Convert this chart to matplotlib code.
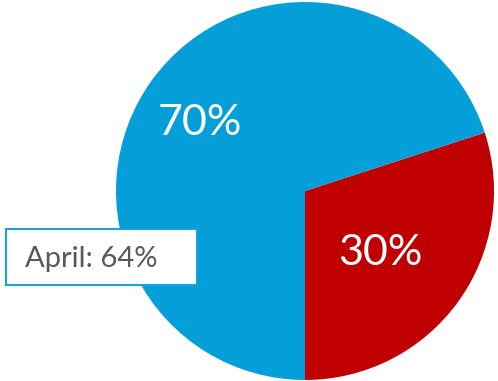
import numpy as np
import matplotlib
matplotlib.use('Agg')
import matplotlib.pyplot as plt
from matplotlib.patches import Rectangle

# datos del gráfico
labels = ['Red', 'Blue']
values = [30, 70]
colors = ['#C00000', '#049FD9']
label_radius = [0.48, 0.69]
callout = 'April: 64%'

W, H = 498, 381
fig = plt.figure(figsize=(W / 100, H / 100), dpi=100)

# centro ~ (305, 191) px, radio ~189 px
cx, cy, r = 305, 191, 189
ax = fig.add_axes([(cx - r) / W, (H - cy - r) / H, 2 * r / W, 2 * r / H])

wedges, _ = ax.pie(values, colors=colors, startangle=-90, counterclock=True,
                   radius=1, wedgeprops=dict(linewidth=0))
ax.set_xlim(-1, 1)
ax.set_ylim(-1, 1)
ax.axis('off')

# pequeños ajustes de posición de las etiquetas (rojo, azul)
offsets = [(0.01, -0.045), (0.0, -0.045)]
for w, v, rad, (dx, dy) in zip(wedges, values, label_radius, offsets):
    ang = np.deg2rad((w.theta1 + w.theta2) / 2)
    ax.text(rad * np.cos(ang) + dx, rad * np.sin(ang) + dy, f'{v}%', color='white',
            fontsize=31, family='Lato', ha='center', va='center')

# cuadro de texto
bx0, by0, bx1, by1 = 6, 229, 197, 285
fig.patches.append(Rectangle((bx0 / W, (H - by1) / H), (bx1 - bx0) / W, (by1 - by0) / H,
                             transform=fig.transFigure, facecolor='white',
                             edgecolor='#1BA1E2', linewidth=1.5, zorder=5))
fig.text(25 / W, (H - 259) / H, callout, color='#595959', fontsize=21,
         family='Lato', ha='left', va='center', zorder=6)

fig.savefig('out.png', dpi=100)
